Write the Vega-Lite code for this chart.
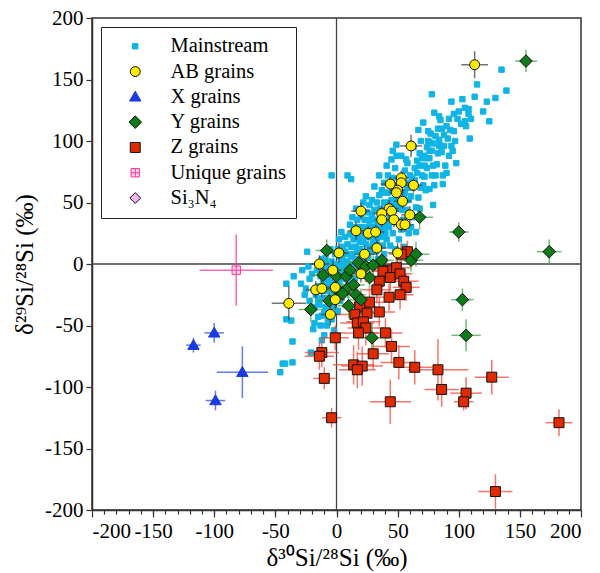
{
"$schema":"https://vega.github.io/schema/vega-lite/v6.json",
"width":489,"height":492,"autosize":"none",
"padding":{"left":92,"top":18,"right":19,"bottom":63},
"background":"white",
"config":{
 "view":{"stroke":"#333","strokeWidth":1.5},
 "font":"Liberation Serif",
 "axis":{"labelFont":"Liberation Serif","labelFontSize":21,"labelColor":"black","titleFont":"Liberation Serif","titleFontSize":25,"titleFontWeight":"normal","titleColor":"black","domainColor":"#333","tickColor":"#333","domainWidth":1.5,"tickWidth":1.2,"labelPadding":3,"grid":false},
 "legend":{"orient":"top-left","offset":9,"strokeColor":"#222","fillColor":"white","padding":9,"labelFont":"Liberation Serif","labelFontSize":20.5,"labelColor":"black","symbolSize":144,"symbolStrokeWidth":1,"rowPadding":4.3,"symbolOffset":15,"labelOffset":25,"labelLimit":300}
},
"data":{"values":[
{"g":"Mainstream","x":-46,"y":-88},{"g":"Mainstream","x":-44,"y":-81},{"g":"Mainstream","x":-42,"y":-81},{"g":"Mainstream","x":-36,"y":-80},{"g":"Mainstream","x":-41,"y":-45},{"g":"Mainstream","x":-37,"y":-46},{"g":"Mainstream","x":-36,"y":-63},{"g":"Mainstream","x":-41,"y":-16},{"g":"Mainstream","x":-35,"y":-10},{"g":"Mainstream","x":-29,"y":-16},{"g":"Mainstream","x":-25,"y":-20},
{"g":"Mainstream","x":-24,"y":10},{"g":"Mainstream","x":-28,"y":-5},{"g":"Mainstream","x":-22,"y":-12},{"g":"Mainstream","x":-26,"y":-25},{"g":"Mainstream","x":-21,"y":-72},{"g":"Mainstream","x":-19,"y":-53},{"g":"Mainstream","x":-22,"y":-30},{"g":"Mainstream","x":-20,"y":-8},{"g":"Mainstream","x":-23,"y":-2},
{"g":"Mainstream","x":-18,"y":-48},{"g":"Mainstream","x":-15,"y":-43},{"g":"Mainstream","x":-12,"y":-42},{"g":"Mainstream","x":-14,"y":-33},{"g":"Mainstream","x":-12,"y":-62},{"g":"Mainstream","x":-10,"y":-58},{"g":"Mainstream","x":-17,"y":-25},{"g":"Mainstream","x":-15,"y":-18},{"g":"Mainstream","x":-13,"y":-10},{"g":"Mainstream","x":-11,"y":-3},{"g":"Mainstream","x":-16,"y":-5},{"g":"Mainstream","x":-12,"y":4},{"g":"Mainstream","x":-10,"y":-28},{"g":"Mainstream","x":-18,"y":-35},{"g":"Mainstream","x":-14,"y":-22},{"g":"Mainstream","x":-11,"y":-15},
{"g":"Mainstream","x":-8,"y":-50},{"g":"Mainstream","x":-6,"y":-40},{"g":"Mainstream","x":-2,"y":-54},{"g":"Mainstream","x":-4,"y":-45},{"g":"Mainstream","x":-9,"y":-35},{"g":"Mainstream","x":-7,"y":-28},{"g":"Mainstream","x":-5,"y":-22},{"g":"Mainstream","x":-3,"y":-15},{"g":"Mainstream","x":-8,"y":-12},{"g":"Mainstream","x":-6,"y":-5},{"g":"Mainstream","x":-2,"y":-8},{"g":"Mainstream","x":-4,"y":2},{"g":"Mainstream","x":-9,"y":5},{"g":"Mainstream","x":-1,"y":-30},{"g":"Mainstream","x":-7,"y":-18},{"g":"Mainstream","x":-3,"y":-35},{"g":"Mainstream","x":-5,"y":12},{"g":"Mainstream","x":-1,"y":8},{"g":"Mainstream","x":-4,"y":72},{"g":"Mainstream","x":-8,"y":0},{"g":"Mainstream","x":-2,"y":-20},{"g":"Mainstream","x":-6,"y":-10},
{"g":"Mainstream","x":1,"y":-38},{"g":"Mainstream","x":3,"y":-30},{"g":"Mainstream","x":5,"y":-25},{"g":"Mainstream","x":2,"y":-15},{"g":"Mainstream","x":4,"y":-8},{"g":"Mainstream","x":6,"y":-2},{"g":"Mainstream","x":1,"y":0},{"g":"Mainstream","x":3,"y":6},{"g":"Mainstream","x":7,"y":10},{"g":"Mainstream","x":9,"y":16},{"g":"Mainstream","x":2,"y":20},{"g":"Mainstream","x":5,"y":14},{"g":"Mainstream","x":8,"y":-12},{"g":"Mainstream","x":6,"y":-20},{"g":"Mainstream","x":9,"y":-5},{"g":"Mainstream","x":8,"y":2},{"g":"Mainstream","x":3,"y":-22},{"g":"Mainstream","x":9,"y":72},{"g":"Mainstream","x":4,"y":26},{"g":"Mainstream","x":7,"y":22},{"g":"Mainstream","x":1,"y":12},{"g":"Mainstream","x":10,"y":-15},
{"g":"Mainstream","x":12,"y":69},{"g":"Mainstream","x":11,"y":-10},{"g":"Mainstream","x":13,"y":-2},{"g":"Mainstream","x":15,"y":4},{"g":"Mainstream","x":17,"y":10},{"g":"Mainstream","x":12,"y":14},{"g":"Mainstream","x":14,"y":20},{"g":"Mainstream","x":16,"y":26},{"g":"Mainstream","x":18,"y":30},{"g":"Mainstream","x":11,"y":32},{"g":"Mainstream","x":13,"y":38},{"g":"Mainstream","x":19,"y":18},{"g":"Mainstream","x":17,"y":-5},{"g":"Mainstream","x":15,"y":-12},{"g":"Mainstream","x":19,"y":0},{"g":"Mainstream","x":12,"y":6},{"g":"Mainstream","x":20,"y":40},{"g":"Mainstream","x":16,"y":45},{"g":"Mainstream","x":14,"y":28},{"g":"Mainstream","x":18,"y":22},{"g":"Mainstream","x":20,"y":8},{"g":"Mainstream","x":11,"y":24},
{"g":"Mainstream","x":22,"y":10},{"g":"Mainstream","x":24,"y":16},{"g":"Mainstream","x":26,"y":22},{"g":"Mainstream","x":28,"y":28},{"g":"Mainstream","x":21,"y":30},{"g":"Mainstream","x":23,"y":36},{"g":"Mainstream","x":25,"y":42},{"g":"Mainstream","x":27,"y":48},{"g":"Mainstream","x":29,"y":52},{"g":"Mainstream","x":22,"y":50},{"g":"Mainstream","x":24,"y":55},{"g":"Mainstream","x":26,"y":5},{"g":"Mainstream","x":28,"y":12},{"g":"Mainstream","x":30,"y":18},{"g":"Mainstream","x":21,"y":20},{"g":"Mainstream","x":27,"y":35},{"g":"Mainstream","x":29,"y":40},{"g":"Mainstream","x":23,"y":25},{"g":"Mainstream","x":25,"y":-2},{"g":"Mainstream","x":30,"y":30},
{"g":"Mainstream","x":31,"y":63},{"g":"Mainstream","x":32,"y":20},{"g":"Mainstream","x":34,"y":26},{"g":"Mainstream","x":36,"y":32},{"g":"Mainstream","x":38,"y":38},{"g":"Mainstream","x":31,"y":44},{"g":"Mainstream","x":33,"y":50},{"g":"Mainstream","x":35,"y":56},{"g":"Mainstream","x":37,"y":60},{"g":"Mainstream","x":39,"y":66},{"g":"Mainstream","x":35,"y":72},{"g":"Mainstream","x":32,"y":10},{"g":"Mainstream","x":34,"y":4},{"g":"Mainstream","x":38,"y":15},{"g":"Mainstream","x":36,"y":45},{"g":"Mainstream","x":39,"y":50},{"g":"Mainstream","x":33,"y":36},{"g":"Mainstream","x":40,"y":25},{"g":"Mainstream","x":37,"y":22},{"g":"Mainstream","x":31,"y":30},{"g":"Mainstream","x":39,"y":8},{"g":"Mainstream","x":35,"y":14},
{"g":"Mainstream","x":41,"y":20},{"g":"Mainstream","x":43,"y":30},{"g":"Mainstream","x":45,"y":40},{"g":"Mainstream","x":47,"y":48},{"g":"Mainstream","x":49,"y":54},{"g":"Mainstream","x":42,"y":58},{"g":"Mainstream","x":44,"y":64},{"g":"Mainstream","x":46,"y":70},{"g":"Mainstream","x":48,"y":78},{"g":"Mainstream","x":45,"y":85},{"g":"Mainstream","x":46,"y":92},{"g":"Mainstream","x":49,"y":97},{"g":"Mainstream","x":42,"y":72},{"g":"Mainstream","x":48,"y":12},{"g":"Mainstream","x":44,"y":15},{"g":"Mainstream","x":46,"y":25},{"g":"Mainstream","x":50,"y":35},{"g":"Mainstream","x":43,"y":50},{"g":"Mainstream","x":47,"y":62},{"g":"Mainstream","x":41,"y":80},{"g":"Mainstream","x":49,"y":88},
{"g":"Mainstream","x":51,"y":20},{"g":"Mainstream","x":53,"y":28},{"g":"Mainstream","x":55,"y":36},{"g":"Mainstream","x":57,"y":44},{"g":"Mainstream","x":59,"y":52},{"g":"Mainstream","x":52,"y":60},{"g":"Mainstream","x":54,"y":68},{"g":"Mainstream","x":56,"y":76},{"g":"Mainstream","x":58,"y":82},{"g":"Mainstream","x":57,"y":85},{"g":"Mainstream","x":52,"y":8},{"g":"Mainstream","x":55,"y":14},{"g":"Mainstream","x":59,"y":25},{"g":"Mainstream","x":51,"y":45},{"g":"Mainstream","x":53,"y":88},{"g":"Mainstream","x":55,"y":55},{"g":"Mainstream","x":58,"y":62},{"g":"Mainstream","x":60,"y":72},{"g":"Mainstream","x":60,"y":40},
{"g":"Mainstream","x":61,"y":30},{"g":"Mainstream","x":63,"y":38},{"g":"Mainstream","x":65,"y":46},{"g":"Mainstream","x":67,"y":54},{"g":"Mainstream","x":69,"y":62},{"g":"Mainstream","x":62,"y":70},{"g":"Mainstream","x":64,"y":78},{"g":"Mainstream","x":66,"y":84},{"g":"Mainstream","x":68,"y":90},{"g":"Mainstream","x":67,"y":109},{"g":"Mainstream","x":65,"y":26},{"g":"Mainstream","x":68,"y":45},{"g":"Mainstream","x":70,"y":72},{"g":"Mainstream","x":63,"y":95},{"g":"Mainstream","x":61,"y":55},{"g":"Mainstream","x":69,"y":100},
{"g":"Mainstream","x":71,"y":115},{"g":"Mainstream","x":72,"y":71},{"g":"Mainstream","x":74,"y":78},{"g":"Mainstream","x":76,"y":86},{"g":"Mainstream","x":78,"y":92},{"g":"Mainstream","x":71,"y":64},{"g":"Mainstream","x":73,"y":60},{"g":"Mainstream","x":75,"y":100},{"g":"Mainstream","x":77,"y":106},{"g":"Mainstream","x":79,"y":80},{"g":"Mainstream","x":76,"y":61},{"g":"Mainstream","x":79,"y":48},{"g":"Mainstream","x":72,"y":88},{"g":"Mainstream","x":74,"y":95},{"g":"Mainstream","x":78,"y":72},{"g":"Mainstream","x":80,"y":64},{"g":"Mainstream","x":76,"y":99},{"g":"Mainstream","x":78,"y":138},{"g":"Mainstream","x":80,"y":123},{"g":"Mainstream","x":75,"y":108},
{"g":"Mainstream","x":81,"y":72},{"g":"Mainstream","x":83,"y":90},{"g":"Mainstream","x":85,"y":96},{"g":"Mainstream","x":87,"y":72},{"g":"Mainstream","x":84,"y":101},{"g":"Mainstream","x":86,"y":91},{"g":"Mainstream","x":88,"y":96},{"g":"Mainstream","x":82,"y":81},{"g":"Mainstream","x":84,"y":120},{"g":"Mainstream","x":87,"y":65},{"g":"Mainstream","x":89,"y":80},{"g":"Mainstream","x":83,"y":110},{"g":"Mainstream","x":85,"y":117},{"g":"Mainstream","x":88,"y":105},
{"g":"Mainstream","x":90,"y":74},{"g":"Mainstream","x":92,"y":88},{"g":"Mainstream","x":94,"y":96},{"g":"Mainstream","x":91,"y":102},{"g":"Mainstream","x":93,"y":109},{"g":"Mainstream","x":96,"y":108},{"g":"Mainstream","x":98,"y":82},{"g":"Mainstream","x":95,"y":92},{"g":"Mainstream","x":99,"y":118},{"g":"Mainstream","x":94,"y":132},{"g":"Mainstream","x":97,"y":100},
{"g":"Mainstream","x":102,"y":114},{"g":"Mainstream","x":103,"y":134},{"g":"Mainstream","x":105,"y":116},{"g":"Mainstream","x":105,"y":127},{"g":"Mainstream","x":108,"y":126},{"g":"Mainstream","x":108,"y":122},{"g":"Mainstream","x":109,"y":102},{"g":"Mainstream","x":106,"y":112},{"g":"Mainstream","x":113,"y":136},{"g":"Mainstream","x":115,"y":146},{"g":"Mainstream","x":110,"y":118},
{"g":"Mainstream","x":123,"y":132},{"g":"Mainstream","x":125,"y":116},{"g":"Mainstream","x":135,"y":158},{"g":"Mainstream","x":139,"y":141},{"g":"Mainstream","x":130,"y":135},{"g":"Mainstream","x":120,"y":124},
{"g":"Mainstream","x":2,"y":-5},{"g":"Mainstream","x":5,"y":3},{"g":"Mainstream","x":8,"y":8},{"g":"Mainstream","x":10,"y":0},{"g":"Mainstream","x":13,"y":8},{"g":"Mainstream","x":16,"y":14},{"g":"Mainstream","x":19,"y":12},{"g":"Mainstream","x":22,"y":18},{"g":"Mainstream","x":25,"y":28},{"g":"Mainstream","x":27,"y":22},{"g":"Mainstream","x":30,"y":24},{"g":"Mainstream","x":33,"y":32},{"g":"Mainstream","x":36,"y":38},{"g":"Mainstream","x":38,"y":28},{"g":"Mainstream","x":41,"y":34},{"g":"Mainstream","x":44,"y":38},{"g":"Mainstream","x":46,"y":44},{"g":"Mainstream","x":48,"y":50},{"g":"Mainstream","x":50,"y":48},{"g":"Mainstream","x":52,"y":52},{"g":"Mainstream","x":54,"y":44},{"g":"Mainstream","x":56,"y":58},{"g":"Mainstream","x":58,"y":66},{"g":"Mainstream","x":60,"y":64},{"g":"Mainstream","x":62,"y":62},{"g":"Mainstream","x":64,"y":68},{"g":"Mainstream","x":66,"y":74},{"g":"Mainstream","x":68,"y":80},{"g":"Mainstream","x":70,"y":86},{"g":"Mainstream","x":72,"y":80},{"g":"Mainstream","x":74,"y":86},{"g":"Mainstream","x":76,"y":92},{"g":"Mainstream","x":79,"y":98},{"g":"Mainstream","x":81,"y":104},{"g":"Mainstream","x":84,"y":96},{"g":"Mainstream","x":86,"y":110},{"g":"Mainstream","x":90,"y":112},{"g":"Mainstream","x":92,"y":118},{"g":"Mainstream","x":96,"y":122},{"g":"Mainstream","x":100,"y":124},{"g":"Mainstream","x":-6,"y":-16},{"g":"Mainstream","x":-9,"y":-22},{"g":"Mainstream","x":-12,"y":-28},{"g":"Mainstream","x":-15,"y":-30},{"g":"Mainstream","x":-3,"y":-26},{"g":"Mainstream","x":0,"y":-22},{"g":"Mainstream","x":-10,"y":-40},{"g":"Mainstream","x":-13,"y":-50},{"g":"Mainstream","x":-7,"y":-45},{"g":"Mainstream","x":3,"y":-12},{"g":"Mainstream","x":6,"y":-8},{"g":"Mainstream","x":12,"y":-6},{"g":"Mainstream","x":15,"y":-2},{"g":"Mainstream","x":18,"y":4},{"g":"Mainstream","x":21,"y":2},{"g":"Mainstream","x":24,"y":8},{"g":"Mainstream","x":27,"y":14},{"g":"Mainstream","x":30,"y":10},{"g":"Mainstream","x":33,"y":18},{"g":"Mainstream","x":36,"y":24},{"g":"Mainstream","x":39,"y":30},{"g":"Mainstream","x":42,"y":42},{"g":"Mainstream","x":45,"y":52},{"g":"Mainstream","x":39,"y":58},{"g":"Mainstream","x":34,"y":44},{"g":"Mainstream","x":28,"y":36},{"g":"Mainstream","x":26,"y":30},{"g":"Mainstream","x":20,"y":30},{"g":"Mainstream","x":17,"y":36},{"g":"Mainstream","x":15,"y":30},
{"g":"Z grains","x":58,"y":10,"ex":10,"ey":9},{"g":"Z grains","x":53,"y":8,"ex":10,"ey":9},{"g":"Z grains","x":49,"y":-3,"ex":12,"ey":10},{"g":"Z grains","x":41,"y":-5,"ex":11,"ey":10},{"g":"Z grains","x":38,"y":-6,"ex":10,"ey":10},{"g":"Z grains","x":44,"y":-11,"ex":12,"ey":10},{"g":"Z grains","x":52,"y":-8,"ex":10,"ey":10},{"g":"Z grains","x":35,"y":-14,"ex":12,"ey":11},{"g":"Z grains","x":55,"y":-14,"ex":12,"ey":10},{"g":"Z grains","x":57,"y":-19,"ex":11,"ey":11},{"g":"Z grains","x":33,"y":-21,"ex":12,"ey":11},{"g":"Z grains","x":43,"y":-27,"ex":12,"ey":11},{"g":"Z grains","x":52,"y":-25,"ex":11,"ey":12},{"g":"Z grains","x":27,"y":-31,"ex":13,"ey":12},{"g":"Z grains","x":19,"y":-35,"ex":14,"ey":12},{"g":"Z grains","x":15,"y":-41,"ex":13,"ey":12},{"g":"Z grains","x":25,"y":-40,"ex":14,"ey":13},{"g":"Z grains","x":35,"y":-39,"ex":13,"ey":12},{"g":"Z grains","x":17,"y":-48,"ex":14,"ey":13},{"g":"Z grains","x":22,"y":-47,"ex":14,"ey":13},{"g":"Z grains","x":24,"y":-52,"ex":15,"ey":14},{"g":"Z grains","x":18,"y":-56,"ex":16,"ey":14},{"g":"Z grains","x":40,"y":-56,"ex":14,"ey":12},{"g":"Z grains","x":-1,"y":-60,"ex":11,"ey":10},{"g":"Z grains","x":45,"y":-67,"ex":15,"ey":14},{"g":"Z grains","x":30,"y":-73,"ex":13,"ey":13},{"g":"Z grains","x":-12,"y":-72,"ex":14,"ey":12},{"g":"Z grains","x":-14,"y":-75,"ex":12,"ey":11},{"g":"Z grains","x":51,"y":-80,"ex":15,"ey":14},{"g":"Z grains","x":14,"y":-82,"ex":17,"ey":16},{"g":"Z grains","x":21,"y":-83,"ex":17,"ey":16},{"g":"Z grains","x":17,"y":-86,"ex":15,"ey":15},{"g":"Z grains","x":64,"y":-84,"ex":14,"ey":14},{"g":"Z grains","x":83,"y":-86,"ex":25,"ey":25},{"g":"Z grains","x":-10,"y":-93,"ex":9,"ey":9},{"g":"Z grains","x":127,"y":-92,"ex":14,"ey":14},{"g":"Z grains","x":86,"y":-102,"ex":14,"ey":14},{"g":"Z grains","x":106,"y":-105,"ex":13,"ey":13},{"g":"Z grains","x":104,"y":-112,"ex":8,"ey":7},{"g":"Z grains","x":44,"y":-112,"ex":17,"ey":18},{"g":"Z grains","x":-4,"y":-125,"ex":8,"ey":8},{"g":"Z grains","x":182,"y":-129,"ex":11,"ey":11},{"g":"Z grains","x":130,"y":-185,"ex":14,"ey":14},
{"g":"Y grains","x":155,"y":165,"ex":9,"ey":9},{"g":"Y grains","x":100,"y":26,"ex":8,"ey":8},{"g":"Y grains","x":174,"y":10,"ex":10,"ey":10},{"g":"Y grains","x":68,"y":38,"ex":11,"ey":10},{"g":"Y grains","x":103,"y":-29,"ex":9,"ey":9},{"g":"Y grains","x":106,"y":-58,"ex":12,"ey":13},{"g":"Y grains","x":29,"y":-60,"ex":15,"ey":12},{"g":"Y grains","x":-21,"y":-37,"ex":10,"ey":10},{"g":"Y grains","x":-8,"y":11,"ex":9,"ey":9},{"g":"Y grains","x":37,"y":3,"ex":10,"ey":8},{"g":"Y grains","x":18,"y":1,"ex":9,"ey":8},{"g":"Y grains","x":24,"y":-2,"ex":9,"ey":8},{"g":"Y grains","x":30,"y":-1,"ex":9,"ey":8},{"g":"Y grains","x":-11,"y":-9,"ex":10,"ey":9},{"g":"Y grains","x":0,"y":-10,"ex":9,"ey":8},{"g":"Y grains","x":8,"y":-10,"ex":9,"ey":8},{"g":"Y grains","x":11,"y":-5,"ex":8,"ey":8},{"g":"Y grains","x":27,"y":-11,"ex":9,"ey":8},{"g":"Y grains","x":1,"y":-21,"ex":9,"ey":9},{"g":"Y grains","x":9,"y":-20,"ex":8,"ey":8},{"g":"Y grains","x":14,"y":-17,"ex":9,"ey":8},{"g":"Y grains","x":5,"y":-24,"ex":9,"ey":9},{"g":"Y grains","x":16,"y":-25,"ex":8,"ey":9},{"g":"Y grains","x":20,"y":-29,"ex":9,"ey":9},{"g":"Y grains","x":-6,"y":-30,"ex":10,"ey":9},{"g":"Y grains","x":10,"y":-34,"ex":9,"ey":10},{"g":"Y grains","x":61,"y":3,"ex":10,"ey":9},{"g":"Y grains","x":65,"y":8,"ex":11,"ey":10},
{"g":"AB grains","x":113,"y":162,"ex":11,"ey":11},{"g":"AB grains","x":61,"y":96,"ex":9,"ey":9},{"g":"AB grains","x":53,"y":70,"ex":6,"ey":6},{"g":"AB grains","x":44,"y":65,"ex":8,"ey":6},{"g":"AB grains","x":53,"y":66,"ex":6,"ey":5},{"g":"AB grains","x":63,"y":64,"ex":7,"ey":6},{"g":"AB grains","x":50,"y":60,"ex":6,"ey":6},{"g":"AB grains","x":49,"y":58,"ex":6,"ey":5},{"g":"AB grains","x":54,"y":51,"ex":7,"ey":6},{"g":"AB grains","x":43,"y":45,"ex":8,"ey":7},{"g":"AB grains","x":45,"y":43,"ex":6,"ey":6},{"g":"AB grains","x":37,"y":41,"ex":7,"ey":6},{"g":"AB grains","x":37,"y":36,"ex":6,"ey":6},{"g":"AB grains","x":47,"y":36,"ex":7,"ey":6},{"g":"AB grains","x":60,"y":40,"ex":7,"ey":7},{"g":"AB grains","x":53,"y":32,"ex":6,"ey":6},{"g":"AB grains","x":56,"y":32,"ex":7,"ey":6},{"g":"AB grains","x":50,"y":9,"ex":8,"ey":8},{"g":"AB grains","x":20,"y":43,"ex":8,"ey":7},{"g":"AB grains","x":16,"y":27,"ex":7,"ey":7},{"g":"AB grains","x":26,"y":25,"ex":7,"ey":6},{"g":"AB grains","x":32,"y":26,"ex":7,"ey":6},{"g":"AB grains","x":33,"y":13,"ex":8,"ey":7},{"g":"AB grains","x":23,"y":8,"ex":8,"ey":7},{"g":"AB grains","x":2,"y":9,"ex":8,"ey":8},{"g":"AB grains","x":-14,"y":0,"ex":8,"ey":7},{"g":"AB grains","x":-3,"y":-5,"ex":7,"ey":8},{"g":"AB grains","x":20,"y":-8,"ex":7,"ey":7},{"g":"AB grains","x":-17,"y":-21,"ex":8,"ey":7},{"g":"AB grains","x":-12,"y":-20,"ex":7,"ey":7},{"g":"AB grains","x":-1,"y":-19,"ex":7,"ey":7},{"g":"AB grains","x":-1,"y":-29,"ex":8,"ey":8},{"g":"AB grains","x":-5,"y":-41,"ex":8,"ey":9},{"g":"AB grains","x":-39,"y":-32,"ex":14,"ey":14},
{"g":"X grains","x":-117,"y":-66,"ex":6,"ey":6},{"g":"X grains","x":-100,"y":-56,"ex":8,"ey":8},{"g":"X grains","x":-77,"y":-88,"ex":21,"ey":21},{"g":"X grains","x":-99,"y":-111,"ex":8,"ey":8},
{"g":"Unique grains","x":-82,"y":-5,"ex":30,"ey":29}
]},
"layer":[
 {"data":{"values":[{}]},"mark":{"type":"rule","color":"#444","strokeWidth":1.3},
  "encoding":{"x":{"datum":0,"type":"quantitative","scale":{"domain":[-200,200],"nice":false,"zero":false},"axis":null}}},
 {"data":{"values":[{}]},"mark":{"type":"rule","color":"#444","strokeWidth":1.3},
  "encoding":{"y":{"datum":0,"type":"quantitative","scale":{"domain":[-200,200],"nice":false,"zero":false},"axis":null}}},
 {"transform":[{"filter":"datum.g === 'Mainstream'"}],
  "mark":{"type":"point","filled":true,"opacity":1,"strokeWidth":1,"size":144},
  "encoding":{
   "x":{"field":"x","type":"quantitative","scale":{"domain":[-200,200],"nice":false,"zero":false},
        "axis":{"orient":"bottom","values":[-200,-150,-100,-50,0,50,100,150,200],"tickSize":7,"labelPadding":3,"labelExpr":"datum.value < 0 ? '-' + (-datum.value) : '' + datum.value","title":"δ³⁰Si/²⁸Si (‰)","titlePadding":4}},
   "y":{"field":"y","type":"quantitative","scale":{"domain":[-200,200],"nice":false,"zero":false},
        "axis":{"values":[-200,-150,-100,-50,0,50,100,150,200],"tickSize":6,"labelExpr":"datum.value < 0 ? '-' + (-datum.value) : '' + datum.value","title":"δ²⁹Si/²⁸Si (‰)","titlePadding":7}},
   "fill":{"field":"g","type":"nominal","scale":{"domain":["Mainstream","AB grains","X grains","Y grains","Z grains","Unique grains","Si₃N₄"],"range":["#10b4e6","#ffeb00","#1a3be0","#107a18","#e02a00","#ffd6ec","#f4b4ee"]},"legend":{"title":null}},
   "stroke":{"field":"g","type":"nominal","scale":{"domain":["Mainstream","AB grains","X grains","Y grains","Z grains","Unique grains","Si₃N₄"],"range":["#10b4e6","#111111","#1a3be0","#111111","#111111","#ff3399","#111111"]},"legend":{"title":null}},
   "shape":{"field":"g","type":"nominal","scale":{"domain":["Mainstream","AB grains","X grains","Y grains","Z grains","Unique grains","Si₃N₄"],"range":["M-0.45,-0.45H0.45V0.45H-0.45Z","M0.83,0A0.83,0.83,0,1,1,-0.83,0A0.83,0.83,0,1,1,0.83,0Z","M0,-0.95L0.95,0.7H-0.95Z","M0,-1.05L1.05,0L0,1.05L-1.05,0Z","M-0.83,-0.83H0.83V0.83H-0.83Z","M-0.7,-0.7H0.7V0.7H-0.7Z M0,-0.7V0.7 M-0.7,0H0.7","M0,-0.9L0.9,0L0,0.9L-0.9,0Z"]},"legend":{"title":null}}
  }},
 {"transform":[{"filter":"datum.g !== 'Mainstream'"}],
  "mark":{"type":"errorbar","thickness":1.5,"rule":{"opacity":0.75}},
  "encoding":{
   "x":{"field":"x","type":"quantitative","scale":{"domain":[-200,200],"nice":false,"zero":false},"axis":null},
   "xError":{"field":"ex"},
   "y":{"field":"y","type":"quantitative","scale":{"domain":[-200,200],"nice":false,"zero":false},"axis":null},
   "color":{"field":"g","type":"nominal","scale":{"domain":["Mainstream","AB grains","X grains","Y grains","Z grains","Unique grains","Si₃N₄"],"range":["#10b4e6","#444444","#3050e8","#3ca84a","#f04a3a","#ff3399","#888888"]},"legend":null}
  }},
 {"transform":[{"filter":"datum.g !== 'Mainstream'"}],
  "mark":{"type":"errorbar","thickness":1.5,"rule":{"opacity":0.75}},
  "encoding":{
   "x":{"field":"x","type":"quantitative","scale":{"domain":[-200,200],"nice":false,"zero":false},"axis":null},
   "y":{"field":"y","type":"quantitative","scale":{"domain":[-200,200],"nice":false,"zero":false},"axis":null},
   "yError":{"field":"ey"},
   "color":{"field":"g","type":"nominal","scale":{"domain":["Mainstream","AB grains","X grains","Y grains","Z grains","Unique grains","Si₃N₄"],"range":["#10b4e6","#444444","#3050e8","#3ca84a","#f04a3a","#ff3399","#888888"]},"legend":null}
  }},
 {"transform":[{"filter":"datum.g !== 'Mainstream'"}],
  "mark":{"type":"point","filled":true,"opacity":1,"strokeWidth":1,"size":144},
  "encoding":{
   "x":{"field":"x","type":"quantitative","scale":{"domain":[-200,200],"nice":false,"zero":false},
        "axis":{"orient":"bottom","values":[-190,-180,-170,-160,-150,-140,-130,-120,-110,-100,-90,-80,-70,-60,-50,-40,-30,-20,-10,0,10,20,30,40,50,60,70,80,90,100,110,120,130,140,150,160,170,180,190],"tickSize":4,"labels":false,"domain":false,"title":null}},
   "y":{"field":"y","type":"quantitative","scale":{"domain":[-200,200],"nice":false,"zero":false},"axis":null},
   "fill":{"field":"g","type":"nominal","scale":{"domain":["Mainstream","AB grains","X grains","Y grains","Z grains","Unique grains","Si₃N₄"],"range":["#10b4e6","#ffeb00","#1a3be0","#107a18","#e02a00","#ffd6ec","#f4b4ee"]},"legend":{"title":null}},
   "stroke":{"field":"g","type":"nominal","scale":{"domain":["Mainstream","AB grains","X grains","Y grains","Z grains","Unique grains","Si₃N₄"],"range":["#10b4e6","#111111","#1a3be0","#111111","#111111","#ff3399","#111111"]},"legend":{"title":null}},
   "shape":{"field":"g","type":"nominal","scale":{"domain":["Mainstream","AB grains","X grains","Y grains","Z grains","Unique grains","Si₃N₄"],"range":["M-0.45,-0.45H0.45V0.45H-0.45Z","M0.83,0A0.83,0.83,0,1,1,-0.83,0A0.83,0.83,0,1,1,0.83,0Z","M0,-0.95L0.95,0.7H-0.95Z","M0,-1.05L1.05,0L0,1.05L-1.05,0Z","M-0.83,-0.83H0.83V0.83H-0.83Z","M-0.7,-0.7H0.7V0.7H-0.7Z M0,-0.7V0.7 M-0.7,0H0.7","M0,-0.9L0.9,0L0,0.9L-0.9,0Z"]},"legend":{"title":null}}
  }}
],
"resolve":{"axis":{"x":"independent","y":"independent"}}
}
